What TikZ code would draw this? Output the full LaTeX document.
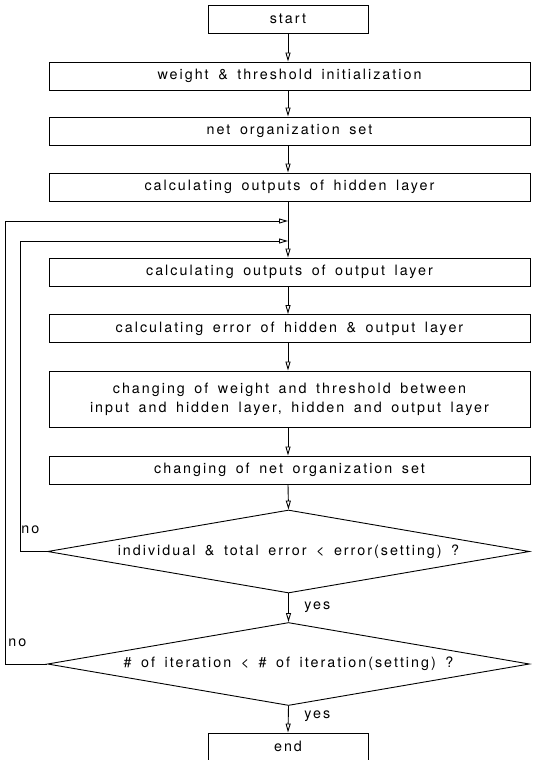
\documentclass[tikz,border=0pt]{standalone}
\usepackage{fontspec}
\setmainfont{TeX Gyre Heros}[LetterSpace=14,WordSpace=1.6]
\usepackage{tikz}
\usetikzlibrary{positioning}
\usetikzlibrary{arrows.meta}
\usetikzlibrary{shapes.geometric}

\begin{document}
\begin{tikzpicture}[x=1pt,y=-1pt,>={Triangle[open,length=9pt,width=5pt]},line width=0.9pt,
  font=\fontsize{14.3}{16}\selectfont,
  box/.style={draw,minimum width=481pt,minimum height=28pt,inner sep=0pt,align=center},
  endbox/.style={draw,minimum width=160pt,minimum height=28pt,inner sep=0pt},
  cond/.style={draw,diamond,minimum width=482pt,minimum height=83pt,inner sep=0pt,aspect=6},
  lab/.style={anchor=west,inner sep=0pt}]

\useasboundingbox (0,0) rectangle (533,760);

\node[endbox] (start) at (288,19) {start};
\node[box] (init) at (289.5,76) {weight \& threshold initialization};
\node[box] (netset) at (289.5,131) {net organization set};
\node[box] (hidden) at (289.5,187) {calculating outputs of hidden layer};
\node[box] (outlayer) at (289.5,272) {calculating outputs of output layer};
\node[box] (error) at (289.5,328.5) {calculating error of hidden \& output layer};
\node[box,minimum height=56pt] (change) at (289.5,399) {changing of weight and threshold between\\[3pt]input and hidden layer, hidden and output layer};
\node[box] (netchange) at (289.5,470) {changing of net organization set};
\node[cond] (errtest) at (288.5,551.5) {individual \& total error < error(setting) ?};
\node[cond] (itertest) at (288.5,664) {\# of iteration < \# of iteration(setting) ?};
\node[endbox,minimum height=27pt] (end) at (288,746.5) {end};

\coordinate (outer) at (288,221);
\coordinate (inner) at (288,241);

% main line
\draw[->] (start.south) -- (start.south |- init.north);
\draw[->] (start.south |- init.south) -- (start.south |- netset.north);
\draw[->] (start.south |- netset.south) -- (start.south |- hidden.north);
\draw[->] (start.south |- hidden.south) -- (start.south |- outlayer.north);
\draw[->] (start.south |- outlayer.south) -- (start.south |- error.north);
\draw[->] (start.south |- error.south) -- (start.south |- change.north);
\draw[->] (start.south |- change.south) -- (start.south |- netchange.north);
\draw[->] (start.south |- netchange.south) -- (errtest.north);
\draw[->] (errtest.south) -- (itertest.north);
\draw[->] (itertest.south) -- (end.north);

% loops back
\draw[->] (errtest.west) -- (20,551.5) -- (20,241) -- (inner);
\draw[->] (itertest.west) -- (5,664) -- (5,221) -- (outer);

\node[lab] (no1) at (21,530) {no};
\node[lab] (no2) at (8,643) {no};
\node[lab] (yes1) at (304,607) {yes};
\node[lab] (yes2) at (304,716) {yes};
\end{tikzpicture}
\end{document}
